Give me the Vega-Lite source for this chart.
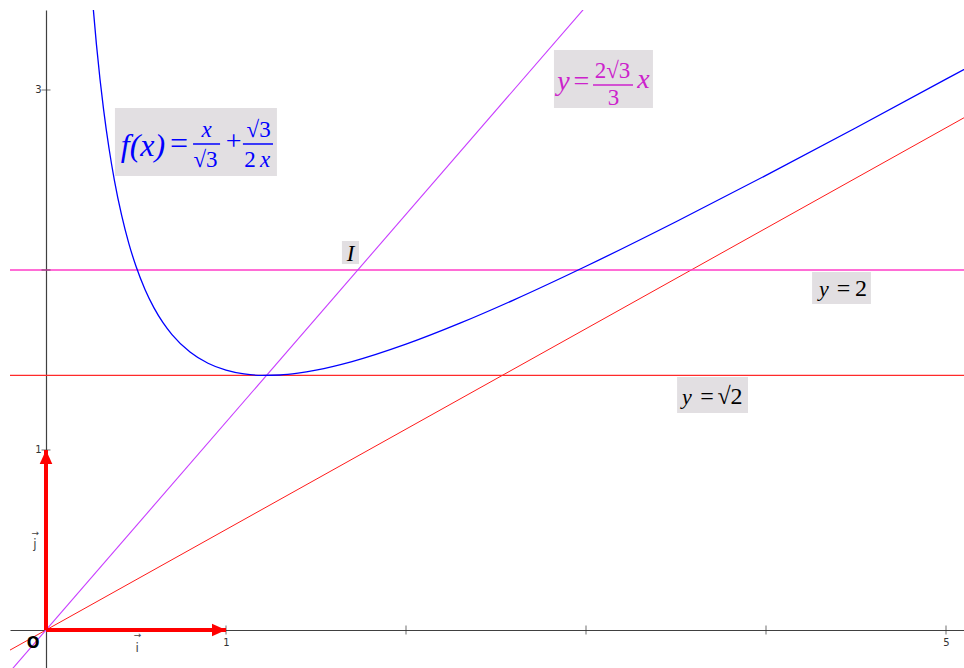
{
  "$schema": "https://vega.github.io/schema/vega-lite/v6.json",
  "width": 954,
  "height": 658,
  "padding": {"left": 10, "top": 10, "right": 0, "bottom": 0},
  "autosize": {"type": "none"},
  "background": "white",
  "config": {"view": {"stroke": null}},
  "datasets": {
    "curve": [
      {"x": 0.25, "y": 3.6084}, {"x": 0.26, "y": 3.4810}, {"x": 0.28, "y": 3.2546}, {"x": 0.30, "y": 3.0600},
      {"x": 0.32, "y": 2.8911}, {"x": 0.35, "y": 2.6764}, {"x": 0.38, "y": 2.4984}, {"x": 0.42, "y": 2.3044},
      {"x": 0.46, "y": 2.1482}, {"x": 0.50, "y": 2.0207}, {"x": 0.55, "y": 1.8921}, {"x": 0.60, "y": 1.7898},
      {"x": 0.65, "y": 1.7076}, {"x": 0.70, "y": 1.6413}, {"x": 0.80, "y": 1.5444}, {"x": 0.90, "y": 1.4819},
      {"x": 1.00, "y": 1.4434}, {"x": 1.10, "y": 1.4224}, {"x": 1.20, "y": 1.4145}, {"x": 1.30, "y": 1.4167},
      {"x": 1.40, "y": 1.4269}, {"x": 1.50, "y": 1.4434}, {"x": 1.70, "y": 1.4909}, {"x": 2.00, "y": 1.5877},
      {"x": 2.30, "y": 1.7044}, {"x": 2.60, "y": 1.8342}, {"x": 3.00, "y": 2.0207}, {"x": 3.50, "y": 2.2682},
      {"x": 4.00, "y": 2.5259}, {"x": 4.50, "y": 2.7905}, {"x": 5.00, "y": 3.0600}, {"x": 5.20, "y": 3.1688}
    ],
    "line_purple": [{"x": -0.25, "y": -0.2887}, {"x": 3.1, "y": 3.5796}],
    "line_red": [{"x": -0.25, "y": -0.1395}, {"x": 5.2, "y": 2.9016}],
    "line_y2": [{"x": -0.25, "y": 2}, {"x": 5.2, "y": 2}],
    "line_ys2": [{"x": -0.25, "y": 1.4142}, {"x": 5.2, "y": 1.4142}],
    "xticks": [{"x": 1, "y": 0}, {"x": 2, "y": 0}, {"x": 3, "y": 0}, {"x": 4, "y": 0}, {"x": 5, "y": 0}],
    "yticks": [{"x": 0, "y": 1}, {"x": 0, "y": 2}, {"x": 0, "y": 3}],
    "vectors": [{"x": 0, "y": 0, "x2": 1, "y2": 0}, {"x": 0, "y": 0, "x2": 0, "y2": 1}],
    "head_i": [{"x": 1, "y": 0}],
    "head_j": [{"x": 0, "y": 1}],
    "boxes": [
      {"x": 0.383, "x2": 1.283, "y": 2.9, "y2": 2.522},
      {"x": 2.822, "x2": 3.372, "y": 3.222, "y2": 2.9},
      {"x": 4.256, "x2": 4.583, "y": 1.989, "y2": 1.811},
      {"x": 3.506, "x2": 3.9, "y": 1.406, "y2": 1.206},
      {"x": 1.644, "x2": 1.739, "y": 2.161, "y2": 2.033}
    ],
    "bars": [
      {"x": 0.817, "x2": 0.967, "y": 2.7, "b": "f"},
      {"x": 1.094, "x2": 1.261, "y": 2.7, "b": "f"},
      {"x": 3.039, "x2": 3.261, "y": 3.028, "b": "m"}
    ],
    "t_it_32": [{"x": 0.539, "y": 2.633, "t": "f(x)", "b": "f"}],
    "t_reg_32": [{"x": 0.739, "y": 2.644, "t": "=", "b": "f"}],
    "t_reg_28": [{"x": 1.042, "y": 2.667, "t": "+", "b": "f"}, {"x": 2.975, "y": 3.0, "t": "=", "b": "m"}],
    "t_it_28": [{"x": 2.875, "y": 3.0, "t": "y", "b": "m"}, {"x": 3.319, "y": 3.011, "t": "x", "b": "m"}],
    "t_it_23": [{"x": 0.892, "y": 2.739, "t": "x", "b": "f"}, {"x": 1.217, "y": 2.572, "t": "x", "b": "f"}, {"x": 1.692, "y": 2.05, "t": "I", "b": "k"}],
    "t_reg_23": [
      {"x": 0.886, "y": 2.572, "t": "√3", "b": "f"},
      {"x": 1.181, "y": 2.739, "t": "√3", "b": "f"},
      {"x": 1.133, "y": 2.572, "t": "2", "b": "f"},
      {"x": 3.147, "y": 3.067, "t": "2√3", "b": "m"},
      {"x": 3.153, "y": 2.917, "t": "3", "b": "m"}
    ],
    "t_it_21": [{"x": 4.322, "y": 1.856, "t": "y", "b": "k"}, {"x": 3.560, "y": 1.256, "t": "y", "b": "k"}],
    "t_reg_21": [
      {"x": 4.431, "y": 1.856, "t": "=", "b": "k"},
      {"x": 4.528, "y": 1.856, "t": "2", "b": "k"},
      {"x": 3.672, "y": 1.256, "t": "=", "b": "k"},
      {"x": 3.8, "y": 1.256, "t": "√2", "b": "k"}
    ],
    "t_origin": [{"x": -0.072, "y": -0.1, "t": "O"}],
    "t_vec": [{"x": 0.506, "y": -0.122, "t": "i"}, {"x": -0.061, "y": 0.456, "t": "j"}],
    "t_vec_arrow": [{"x": 0.508, "y": -0.058, "t": "→"}, {"x": -0.059, "y": 0.51, "t": "→"}]
  },
  "encoding": {
    "x": {
      "field": "x", "type": "quantitative",
      "scale": {"domain": [-0.2, 5.1], "nice": false, "zero": false},
      "axis": {"orient": "bottom", "offset": -38, "values": [1, 5], "ticks": false, "grid": false, "title": null,
        "domainColor": "#404040", "domainWidth": 1.2, "labelFont": "DejaVu Sans", "labelFontSize": 10,
        "labelColor": "#333333", "labelPadding": 7, "labelFlush": false, "labelOverlap": false}
    },
    "y": {
      "field": "y", "type": "quantitative",
      "scale": {"domain": [-0.2111, 3.4444], "nice": false, "zero": false},
      "axis": {"orient": "left", "offset": -36, "values": [1, 3], "ticks": false, "grid": false, "title": null,
        "domainColor": "#404040", "domainWidth": 1.2, "labelFont": "DejaVu Sans", "labelFontSize": 10,
        "labelColor": "#333333", "labelPadding": 5, "labelFlush": false, "labelOverlap": false}
    }
  },
  "layer": [
    {"data": {"name": "boxes"}, "mark": {"type": "rect", "fill": "#e2dfe2"}, "encoding": {"x2": {"field": "x2"}, "y2": {"field": "y2"}}},
    {"data": {"name": "line_red"}, "mark": {"type": "line", "color": "#ff1a1a", "strokeWidth": 1, "clip": true}},
    {"data": {"name": "line_ys2"}, "mark": {"type": "line", "color": "#ff2a2a", "strokeWidth": 1.3, "clip": true}},
    {"data": {"name": "line_y2"}, "mark": {"type": "line", "color": "#ff3cc8", "strokeWidth": 1.3, "clip": true}},
    {"data": {"name": "line_purple"}, "mark": {"type": "line", "color": "#c83cff", "strokeWidth": 1.1, "clip": true}},
    {"data": {"name": "curve"}, "mark": {"type": "line", "color": "#0000ff", "strokeWidth": 1.3, "interpolate": "monotone", "clip": true}},
    {"data": {"name": "xticks"}, "mark": {"type": "tick", "orient": "vertical", "size": 9, "thickness": 1, "color": "#333333"}},
    {"data": {"name": "yticks"}, "mark": {"type": "tick", "orient": "horizontal", "size": 9, "thickness": 1, "color": "#333333"}},
    {"data": {"name": "vectors"}, "mark": {"type": "rule", "color": "#ff0000", "strokeWidth": 4, "strokeCap": "butt"}, "encoding": {"x2": {"field": "x2"}, "y2": {"field": "y2"}}},
    {"data": {"name": "head_i"}, "mark": {"type": "point", "shape": "M0,0L-2,-0.9L-2,0.9Z", "size": 196, "filled": true, "color": "#ff0000", "opacity": 1}},
    {"data": {"name": "head_j"}, "mark": {"type": "point", "shape": "M0,0L-0.9,2L0.9,2Z", "size": 196, "filled": true, "color": "#ff0000", "opacity": 1}},
    {"data": {"name": "bars"}, "mark": {"type": "rule", "strokeWidth": 1.5}, "encoding": {"x2": {"field": "x2"}, "color": {"field": "b", "type": "nominal", "scale": {"domain": ["f", "m", "k"], "range": ["#0000ff", "#cc22cc", "#000000"]}, "legend": null}}},
    {"data": {"name": "t_it_32"}, "mark": {"type": "text", "font": "Liberation Serif", "fontStyle": "italic", "fontSize": 32, "align": "center", "baseline": "alphabetic"}, "encoding": {"text": {"field": "t"}, "color": {"field": "b", "type": "nominal", "scale": {"domain": ["f", "m", "k"], "range": ["#0000ff", "#cc22cc", "#000000"]}, "legend": null}}},
    {"data": {"name": "t_reg_32"}, "mark": {"type": "text", "font": "Liberation Serif", "fontSize": 32, "align": "center", "baseline": "alphabetic"}, "encoding": {"text": {"field": "t"}, "color": {"field": "b", "type": "nominal", "scale": {"domain": ["f", "m", "k"], "range": ["#0000ff", "#cc22cc", "#000000"]}, "legend": null}}},
    {"data": {"name": "t_reg_28"}, "mark": {"type": "text", "font": "Liberation Serif", "fontSize": 28, "align": "center", "baseline": "alphabetic"}, "encoding": {"text": {"field": "t"}, "color": {"field": "b", "type": "nominal", "scale": {"domain": ["f", "m", "k"], "range": ["#0000ff", "#cc22cc", "#000000"]}, "legend": null}}},
    {"data": {"name": "t_it_28"}, "mark": {"type": "text", "font": "Liberation Serif", "fontStyle": "italic", "fontSize": 28, "align": "center", "baseline": "alphabetic"}, "encoding": {"text": {"field": "t"}, "color": {"field": "b", "type": "nominal", "scale": {"domain": ["f", "m", "k"], "range": ["#0000ff", "#cc22cc", "#000000"]}, "legend": null}}},
    {"data": {"name": "t_it_23"}, "mark": {"type": "text", "font": "Liberation Serif", "fontStyle": "italic", "fontSize": 23, "align": "center", "baseline": "alphabetic"}, "encoding": {"text": {"field": "t"}, "color": {"field": "b", "type": "nominal", "scale": {"domain": ["f", "m", "k"], "range": ["#0000ff", "#cc22cc", "#000000"]}, "legend": null}}},
    {"data": {"name": "t_reg_23"}, "mark": {"type": "text", "font": "Liberation Serif", "fontSize": 23, "align": "center", "baseline": "alphabetic"}, "encoding": {"text": {"field": "t"}, "color": {"field": "b", "type": "nominal", "scale": {"domain": ["f", "m", "k"], "range": ["#0000ff", "#cc22cc", "#000000"]}, "legend": null}}},
    {"data": {"name": "t_it_21"}, "mark": {"type": "text", "font": "Liberation Serif", "fontStyle": "italic", "fontSize": 22, "align": "center", "baseline": "alphabetic"}, "encoding": {"text": {"field": "t"}, "color": {"field": "b", "type": "nominal", "scale": {"domain": ["f", "m", "k"], "range": ["#0000ff", "#cc22cc", "#000000"]}, "legend": null}}},
    {"data": {"name": "t_reg_21"}, "mark": {"type": "text", "font": "Liberation Serif", "fontSize": 24, "align": "center", "baseline": "alphabetic"}, "encoding": {"text": {"field": "t"}, "color": {"field": "b", "type": "nominal", "scale": {"domain": ["f", "m", "k"], "range": ["#0000ff", "#cc22cc", "#000000"]}, "legend": null}}},
    {"data": {"name": "t_origin"}, "mark": {"type": "text", "font": "DejaVu Sans", "fontWeight": "bold", "fontSize": 15, "align": "center", "baseline": "alphabetic", "color": "#000000"}, "encoding": {"text": {"field": "t"}}},
    {"data": {"name": "t_vec"}, "mark": {"type": "text", "font": "DejaVu Sans", "fontSize": 12, "align": "center", "baseline": "alphabetic", "color": "#444444"}, "encoding": {"text": {"field": "t"}}},
    {"data": {"name": "t_vec_arrow"}, "mark": {"type": "text", "font": "DejaVu Sans", "fontSize": 9, "align": "center", "baseline": "bottom", "color": "#444444"}, "encoding": {"text": {"field": "t"}}}
  ]
}
